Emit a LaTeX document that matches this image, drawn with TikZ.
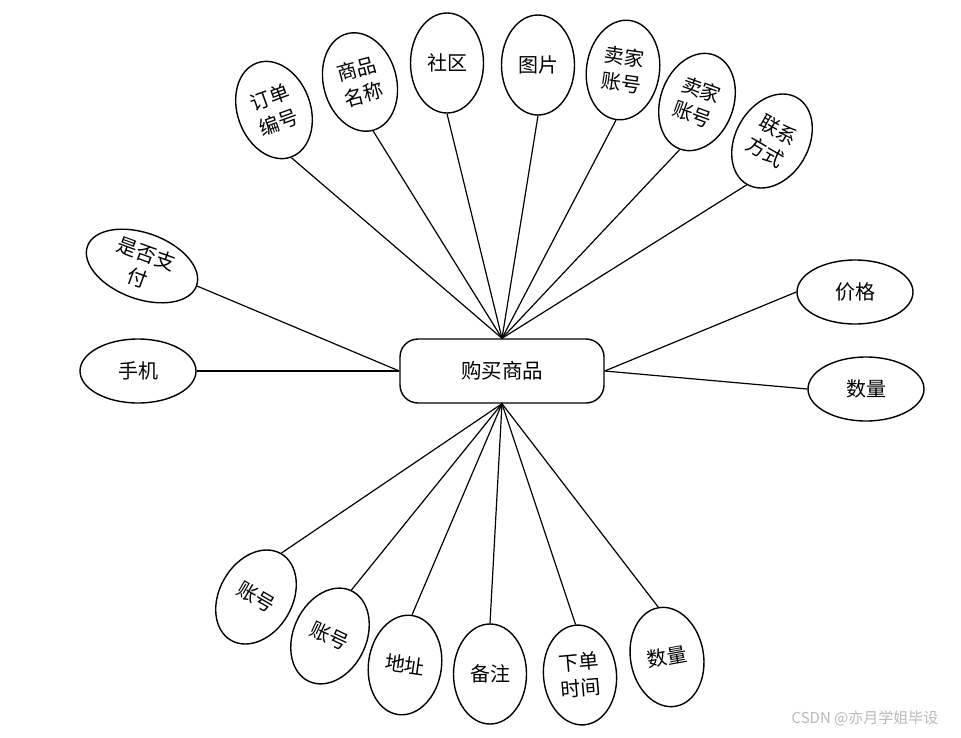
\documentclass[tikz,border=0pt]{standalone}
\usepackage{fontspec}
\newfontfamily\cjk{Noto Sans CJK SC}
\usetikzlibrary{shapes.geometric}
\tikzset{
  attr/.style={draw, ellipse, line width=1.4pt, fill=white, inner sep=0pt,
    minimum width=73, minimum height=100, align=center,
    font=\cjk\fontsize{20}{26}\selectfont},
  wattr/.style={attr, minimum width=116, minimum height=64},
  ent/.style={draw, line width=1.4pt, rounded corners=18, minimum width=204,
    minimum height=64, font=\cjk\fontsize{20.5}{26}\selectfont},
  link/.style={line width=1.2pt}
}
\begin{document}
\begin{tikzpicture}[x=1pt,y=-1pt]
    \useasboundingbox (0,0) rectangle (961,737);
    \node[ent] (buy) at (502,371) {购买商品};

    % top
    \node[attr, rotate=20] (a1) at (274,110) {订单\\编号};
    \node[attr, rotate=15] (a2) at (360,82) {商品\\名称};
    \node[attr] (a3) at (447,63) {社区};
    \node[attr] (a4) at (538,65) {图片};
    \node[attr, rotate=-8] (a5) at (623,70) {卖家\\账号};
    \node[attr, rotate=-20] (a6) at (697,102) {卖家\\账号};
    \node[attr, rotate=-30] (a7) at (772,141) {联系\\方式};

    % left and right
    \node[wattr, rotate=-20, minimum height=66] (a8) at (142,266) {是否支\\付};
    \node[wattr] (a9) at (138,371) {手机};
    \node[wattr] (a10) at (855,292) {价格};
    \node[wattr] (a11) at (866,389) {数量};

    % bottom
    \node[attr, rotate=-30] (a12) at (256,597) {账号};
    \node[attr, rotate=-25] (a13) at (330,636) {账号};
    \node[attr, rotate=-8] (a14) at (405,665) {地址};
    \node[attr] (a15) at (490,674) {备注};
    \node[attr, rotate=5] (a16) at (580,675) {下单\\时间};
    \node[attr, rotate=10] (a17) at (667,657) {数量};

    \foreach \i in {1,...,7} {
      \draw[link] (a\i.south) -- (buy.north);
    }
    \foreach \i in {8,9} {
      \draw[link] (a\i.east) -- (buy.west);
    }
    \foreach \i in {10,11} {
      \draw[link] (a\i.west) -- (buy.east);
    }
    \foreach \i in {12,...,17} {
      \draw[link] (a\i.north) -- (buy.south);
    }

    \node[text=gray!55, font=\cjk\fontsize{15}{18}\selectfont] (wm) at (865,718) {CSDN @亦月学姐毕设};
  \end{tikzpicture}
\end{document}
